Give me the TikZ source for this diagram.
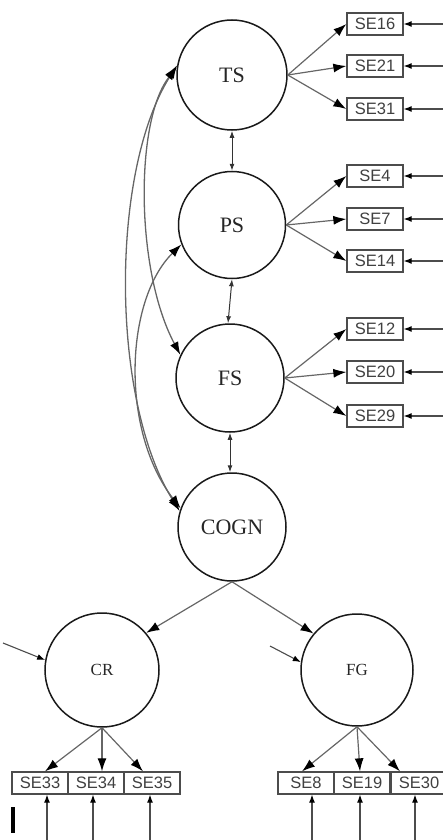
\documentclass[tikz,border=0pt]{standalone}
\usepackage{fontspec}
\setmainfont{Liberation Serif}
\newfontfamily\sansf{Liberation Sans}
\usetikzlibrary{arrows.meta}
\begin{document}
\begin{tikzpicture}[x=1pt,y=-1pt,
 lat/.style={circle,draw=black!90,line width=1.5pt,inner sep=0pt,font=\fontsize{22}{22}\selectfont,text=black!85},
 latsm/.style={lat,font=\fontsize{17}{17}\selectfont},
 ind/.style={draw=black!70,line width=1.3pt,minimum width=56pt,minimum height=22pt,inner sep=0pt,font=\sansf\fontsize{16.5}{16.5}\selectfont,text=black!75},
 ptharr/.style={draw=black!60,line width=1.2pt,-{Latex[length=13pt,width=9pt,color=black]}},
 errarr/.style={draw=black!70,line width=1.1pt,-{Latex[length=8pt,width=6pt,color=black]}},
 covarr/.style={draw=black!60,line width=1.3pt,{Latex[length=13pt,width=9pt,color=black]}-{Latex[length=13pt,width=9pt,color=black]}},
 dblarr/.style={draw=black!80,line width=1pt,{Latex[length=7pt,width=5pt]}-{Latex[length=7pt,width=5pt]}}
]
\useasboundingbox (0,0) rectangle (443,840);

% latent variables
\node[lat,minimum size=110pt] (TS) at (232,75) {TS};
\node[lat,minimum size=107pt] (PS) at (232,225) {PS};
\node[lat,minimum size=108pt] (FS) at (230,378) {FS};
\node[lat,minimum size=108pt] (COGN) at (232,527) {COGN};
\node[latsm,minimum size=114pt] (CR) at (102,670) {CR};
\node[latsm,minimum size=112pt] (FG) at (357,670) {FG};

% right indicators
\node[ind] (SE16) at (375,24) {SE16};
\node[ind] (SE21) at (375,66) {SE21};
\node[ind] (SE31) at (375,109) {SE31};
\node[ind] (SE4) at (375,176) {SE4};
\node[ind] (SE7) at (375,219) {SE7};
\node[ind] (SE14) at (375,261) {SE14};
\node[ind] (SE12) at (375,329) {SE12};
\node[ind] (SE20) at (375,372) {SE20};
\node[ind] (SE29) at (375,416) {SE29};

% bottom indicators
\node[ind] (SE33) at (40,783) {SE33};
\node[ind] (SE34) at (96,783) {SE34};
\node[ind] (SE35) at (152,783) {SE35};
\node[ind] (SE8) at (306,783) {SE8};
\node[ind] (SE19) at (362,783) {SE19};
\node[ind] (SE30) at (419,783) {SE30};

% loadings
\foreach \f/\a/\b/\c in {TS/SE16/SE21/SE31,PS/SE4/SE7/SE14,FS/SE12/SE20/SE29}{
  \draw[ptharr] (\f.east) -- (\a.west);
  \draw[ptharr] (\f.east) -- (\b.west);
  \draw[ptharr] (\f.east) -- (\c.west);
}
\draw[ptharr] (CR.south) -- ([xshift=5pt]SE33.north);
\draw[ptharr] (CR.south) -- ([xshift=6pt]SE34.north);
\draw[ptharr] (CR.south) -- ([xshift=-9pt]SE35.north);
\draw[ptharr] (FG.south) -- ([xshift=-4pt]SE8.north);
\draw[ptharr] (FG.south) -- ([xshift=-2pt]SE19.north);
\draw[ptharr] (FG.south) -- ([xshift=-19pt]SE30.north);
\draw[ptharr] (COGN.south) -- (CR.40);
\draw[ptharr] (COGN.south) -- (FG.140);

% errors right
\foreach \s in {SE16,SE21,SE31,SE4,SE7,SE14,SE12,SE20,SE29}{
  \coordinate (e\s) at ([xshift=40pt]\s.east);
  \draw[errarr] (e\s) -- (\s.east);
}
% errors bottom
\coordinate (eSE33) at (47,840);
\coordinate (eSE34) at (93,840);
\coordinate (eSE35) at (150,840);
\coordinate (eSE8) at (312,840);
\coordinate (eSE19) at (360,840);
\coordinate (eSE30) at (415,840);
\foreach \s in {SE33,SE34,SE35,SE8,SE19,SE30}{
  \draw[errarr] (e\s) -- (e\s |- \s.south);
}
% disturbances
\coordinate (dCR) at (3,643);
\coordinate (dFG) at (270,646);
\draw[errarr] (dCR) -- (CR.170);
\draw[errarr] (dFG) -- (FG.172);

% correlations between neighbours
\draw[dblarr] (TS.south) -- (PS.north);
\draw[dblarr] (PS.south) -- ([xshift=-2pt]FS.north);
\draw[dblarr] (FS.south) -- ([xshift=-2pt]COGN.north);

% covariance arcs
\draw[covarr] (TS.170) .. controls (110,170) and (110,400) .. (COGN.163);
\draw[covarr] (TS.172) .. controls (135,120) and (135,270) .. (FS.155);
\draw[covarr] (PS.201) .. controls (125,300) and (120,430) .. (COGN.160);

% bar
\fill[black] (11,807) rectangle (14.5,833);
\end{tikzpicture}
\end{document}
